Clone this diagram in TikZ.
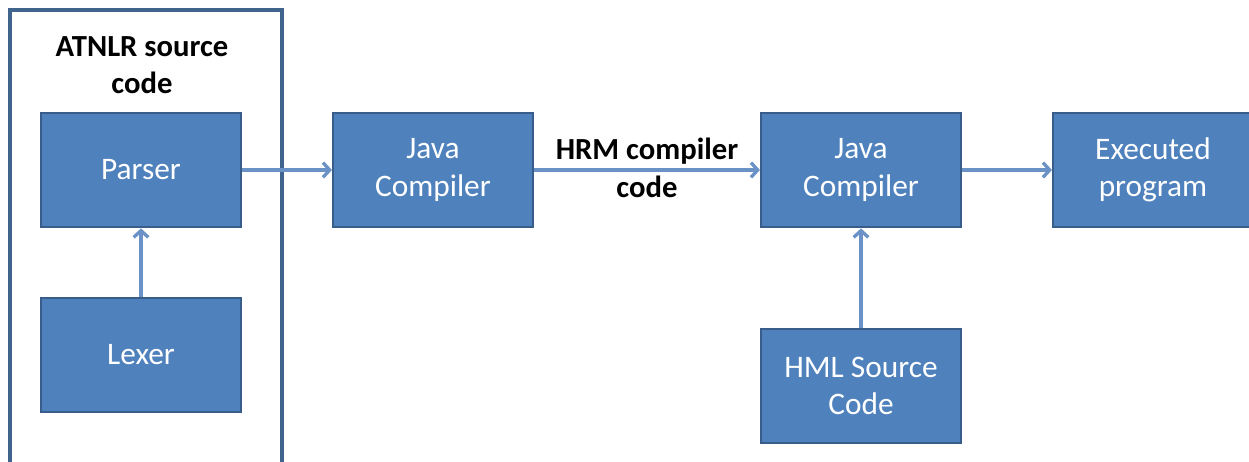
\documentclass[tikz,border=0pt]{standalone}
\usepackage{fontspec}
\setmainfont{Carlito}
\usetikzlibrary{arrows.meta}

\definecolor{boxfill}{HTML}{4F81BD}
\definecolor{boxedge}{HTML}{385D8A}
\definecolor{flowline}{HTML}{6A92C6}
\definecolor{framecol}{HTML}{41648F}

\begin{document}
\begin{tikzpicture}[x=0.75pt, y=-0.75pt,
    blockbox/.style={draw=boxedge, fill=boxfill, line width=1.6pt, minimum width=150pt, minimum height=86pt,
      text=white, align=center, font=\fontsize{23.5}{28}\selectfont},
    flow/.style={draw=flowline, line width=2.5pt, -{Straight Barb[length=5pt,width=11pt]}},
    lbl/.style={font=\bfseries\fontsize{23}{28}\selectfont, align=center}]
    \clip (0,0) rectangle (1249,461);

    % frame round the grammar part
    \draw[framecol, line width=2.3pt] (10,10) rectangle (282,520);
    \node[lbl] (srctitle) at (142,65) {ATNLR source\\code};

    \node[blockbox] (parser) at (141,170) {Parser};
    \node[blockbox] (lexer) at (141,355) {Lexer};
    \node[blockbox] (javacA) at (433,170) {Java\\Compiler};
    \node[blockbox] (javacB) at (861,170) {Java\\Compiler};
    \node[blockbox] (executed) at (1153,170) {Executed\\program};
    \node[blockbox] (hmlsrc) at (861,386) {HML Source\\Code};

    % flow between the stages
    \draw[flow] (lexer) -- (parser);
    \draw[flow] (parser) -- (javacA);
    \draw[flow] (javacA) -- (javacB);
    \draw[flow] (javacB) -- (executed);
    \draw[flow] (hmlsrc) -- (javacB);

    \node[lbl] (hrmcode) at (647,168) {HRM compiler\\code};
\end{tikzpicture}
\end{document}
